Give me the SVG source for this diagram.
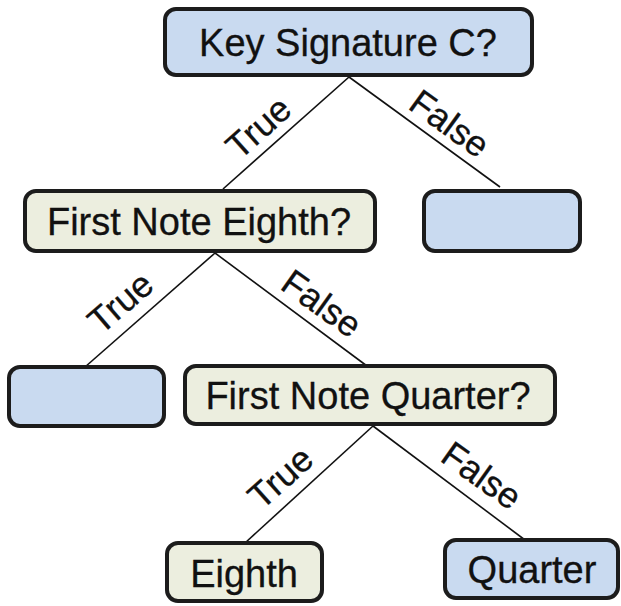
<svg xmlns="http://www.w3.org/2000/svg" width="621" height="606" viewBox="0 0 621 606">
<style>
.box{stroke:#1c1c1c;stroke-width:4}
.blue{fill:#c9daf0}
.green{fill:#eceedf}
.t{font-family:"Liberation Sans",Arial,sans-serif;font-size:38px;fill:#111;text-anchor:middle;stroke:#111;stroke-width:0.3}
.lbl{font-family:"Liberation Sans",Arial,sans-serif;font-size:36px;fill:#111;text-anchor:middle;stroke:#111;stroke-width:0.3}
.edge{stroke:#111;stroke-width:1.6;fill:none}
</style>
<rect width="621" height="606" fill="#ffffff"/>
<g id="connectors">
<line class="edge" x1="349" y1="77" x2="223" y2="189"/>
<line class="edge" x1="349" y1="77" x2="500" y2="187"/>
<line class="edge" x1="215" y1="253" x2="85" y2="367"/>
<line class="edge" x1="215" y1="253" x2="367" y2="366"/>
<line class="edge" x1="373" y1="426" x2="245" y2="543"/>
<line class="edge" x1="373" y1="426" x2="525" y2="540"/>
<text class="lbl" transform="translate(258,127) rotate(-41.7)" y="13">True</text>
<text class="lbl" transform="translate(450,123) rotate(36)" y="13">False</text>
<text class="lbl" transform="translate(120,302) rotate(-40.7)" y="13">True</text>
<text class="lbl" transform="translate(322,303) rotate(35.6)" y="13">False</text>
<text class="lbl" transform="translate(280,477) rotate(-41.7)" y="13">True</text>
<text class="lbl" transform="translate(482,475) rotate(35.6)" y="13">False</text>
</g>
<g id="key-signature">
<rect class="box blue" x="165" y="9" width="367" height="66" rx="11"/>
<text class="t" x="348" y="56">Key Signature C?</text>
</g>
<g id="first-note-eighth">
<rect class="box green" x="25" y="191" width="350" height="60" rx="11"/>
<text class="t" x="199" y="235">First Note Eighth?</text>
</g>
<g id="blank-right">
<rect class="box blue" x="424" y="191" width="156" height="60" rx="11"/>
</g>
<g id="blank-left">
<rect class="box blue" x="9" y="367" width="155" height="59" rx="11"/>
</g>
<g id="first-note-quarter">
<rect class="box green" x="185" y="366" width="370" height="58" rx="11"/>
<text class="t" x="368" y="409">First Note Quarter?</text>
</g>
<g id="eighth">
<rect class="box green" x="167" y="543" width="155" height="58" rx="11"/>
<text class="t" x="244" y="587">Eighth</text>
</g>
<g id="quarter">
<rect class="box blue" x="445" y="540" width="173" height="58" rx="11"/>
<text class="t" x="532" y="583">Quarter</text>
</g>
</svg>
